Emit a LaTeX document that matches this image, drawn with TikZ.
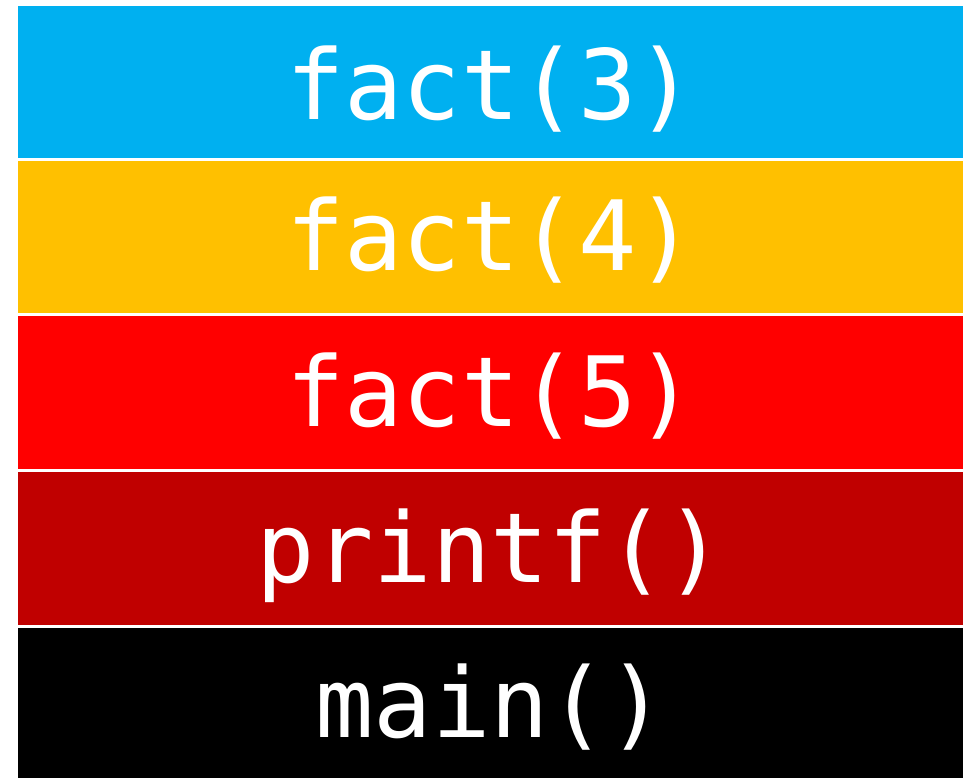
\documentclass[tikz,border=0pt]{standalone}
\usepackage{fontspec}
\newfontfamily\codefont{DejaVu Sans Mono}
\definecolor{cblue}{HTML}{00B0F0}
\definecolor{cyellow}{HTML}{FFC000}
\definecolor{cred}{HTML}{FF0000}
\definecolor{cdarkred}{HTML}{C00000}
\begin{document}
\begin{tikzpicture}[x=1pt,y=-1pt,
  frame/.style={rectangle, draw=none, inner sep=0pt, minimum width=945pt, outer sep=0pt},
  lbl/.style={anchor=base, text=white, inner sep=0pt, font=\codefont\fontsize{97}{110}\selectfont}]
\useasboundingbox (0,0) rectangle (972,777);
\fill[white] (0,0) rectangle (972,777);
\node[frame, fill=cblue, minimum height=152pt] (b1) at (490.5,82) {};
\node[frame, fill=cyellow, minimum height=152pt] (b2) at (490.5,237) {};
\node[frame, fill=cred, minimum height=153pt] (b3) at (490.5,392.5) {};
\node[frame, fill=cdarkred, minimum height=153pt] (b4) at (490.5,548.5) {};
\node[frame, fill=black, minimum height=150pt] (b5) at (490.5,703) {};
\node[lbl] (t1) at ([yshift=-37pt]b1.center) {fact(3)};
\node[lbl] (t2) at ([yshift=-33pt]b2.center) {fact(4)};
\node[lbl] (t3) at ([yshift=-34pt]b3.center) {fact(5)};
\node[lbl] (t4) at ([yshift=-33.5pt]b4.center) {printf()};
\node[lbl] (t5) at ([yshift=-34pt]b5.center) {main()};
\end{tikzpicture}
\end{document}
